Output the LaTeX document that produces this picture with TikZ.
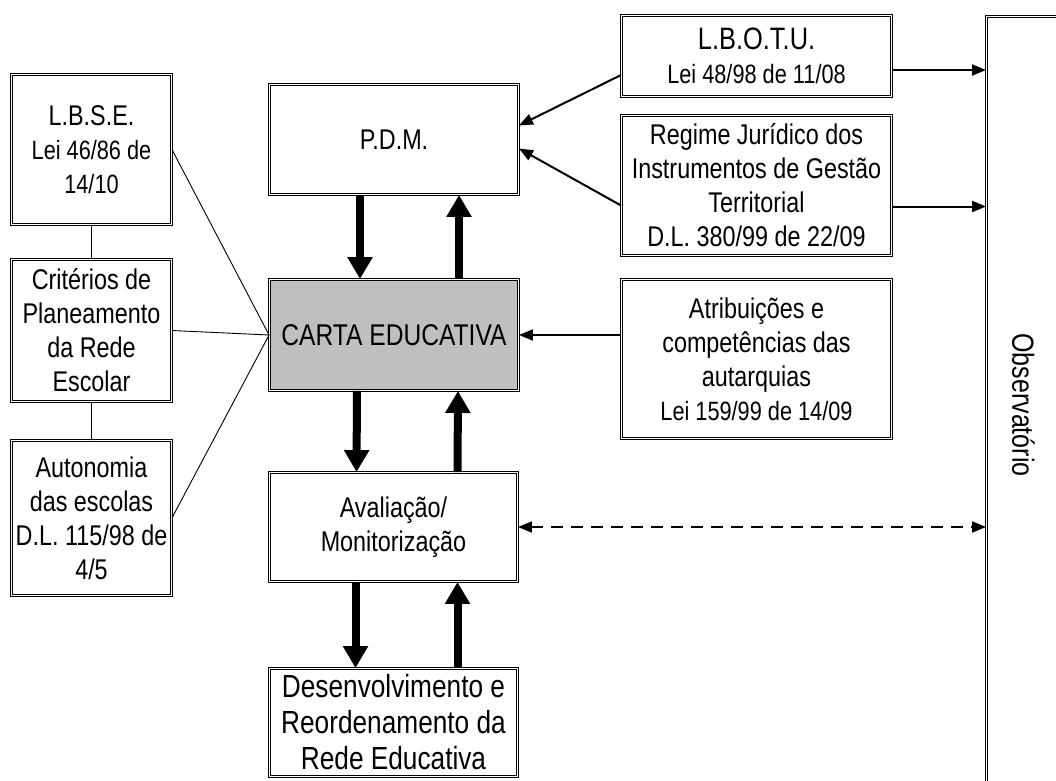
\documentclass[tikz,border=0pt]{standalone}
\usepackage{fontspec}
\setmainfont{Liberation Sans}[FakeStretch=0.82]
\usetikzlibrary{arrows.meta, positioning}
\newcommand{\lawsize}{\fontsize{26.5}{34}\selectfont}
\tikzset{
  box/.style={draw, double, double distance=1.4pt, line width=0.9pt,
    align=center, inner sep=0pt}, % every framed box
  bigarrow/.style={line width=8pt, -{Triangle[length=22pt,width=24pt]}}, % the fat arrows
  link/.style={line width=2pt, -{Triangle[length=14pt,width=11pt]}}, % thin arrows
  dashlink/.style={line width=2pt, dash pattern=on 12pt off 8pt,
    {Triangle[length=14pt,width=11pt]}-{Triangle[length=14pt,width=11pt]}},
  plain/.style={line width=0.9pt}, % links of the left column
}

\begin{document}
\begin{tikzpicture}[x=1pt, y=-1pt,
    every node/.style={font=\fontsize{28.5}{34}\selectfont}]
    \clip (0,0) rectangle (1056,780);

    % left column
    \node[box, minimum width=160pt, minimum height=150pt] (lbse) at (91.5,149.5)
      {L.B.S.E.\\\lawsize Lei 46/86 de\\\lawsize 14/10};
    \node[box, minimum width=160pt, minimum height=142pt] (crit) at (91.5,330.5)
      {Critérios de\\Planeamento\\da Rede\\Escolar};
    \node[box, minimum width=160pt, minimum height=155pt] (auton) at (91.5,518)
      {Autonomia\\das escolas\\D.L. 115/98 de\\4/5};

    % middle column
    \node[box, minimum width=249pt, minimum height=110pt] (pdm) at (394,139.5) {P.D.M.};
    \node[box, fill=black!25, minimum width=249pt, minimum height=111pt,
      font=\fontsize{30}{34}\selectfont] (carta) at (394,335) {CARTA EDUCATIVA};
    \node[box, minimum width=248pt, minimum height=109pt] (aval) at (393.5,527)
      {Avaliação/\\Monitorização};
    \node[box, minimum width=248pt, minimum height=108pt,
      font=\fontsize{32}{36}\selectfont] (desen) at (393.5,722.5)
      {Desenvolvimento e\\Reordenamento da\\Rede Educativa};

    % right column
    \node[box, minimum width=270pt, minimum height=81pt] (lbotu) at (756.5,56)
      {\fontsize{31}{34}\selectfont L.B.O.T.U.\\\lawsize Lei 48/98 de 11/08};
    \node[box, minimum width=270pt, minimum height=140pt] (regime) at (756.5,185.5)
      {Regime Jurídico dos\\Instrumentos de Gestão\\Territorial\\D.L. 380/99 de 22/09};
    \node[box, minimum width=270pt, minimum height=159pt] (atrib) at (756.5,359)
      {Atribuições e\\competências das\\autarquias\\\lawsize Lei 159/99 de 14/09};

    \node[box, minimum width=74pt, minimum height=777pt] (obs) at (1023.5,405) {};
    \node[rotate=-90, font=\fontsize{30.5}{34}\selectfont] (obstext) at (obs) {Observatório};

    \draw[plain]
    (lbse) -- (crit)
    (crit) -- (auton)
    (lbse.east) -- (carta.west)
    (crit.east) -- (carta.west)
    (auton.east) -- (carta.west);

    \draw[bigarrow] ([xshift=-34pt]pdm.south) -- ([xshift=-34pt]carta.north);
    \draw[bigarrow] ([xshift=65pt]carta.north) -- ([xshift=65pt]pdm.south);
    \draw[bigarrow] ([xshift=-37pt]carta.south) -- ([xshift=-37pt]aval.north);
    \draw[bigarrow] ([xshift=64pt]aval.north) -- ([xshift=64pt]carta.south);
    \draw[bigarrow] ([xshift=-38pt]aval.south) -- ([xshift=-38pt]desen.north);
    \draw[bigarrow] ([xshift=64pt]desen.north) -- ([xshift=64pt]aval.south);

    \draw[link] ([yshift=-19pt]lbotu.west) -- ([yshift=14pt]pdm.east);
    \draw[link] ([yshift=-20pt]regime.west) -- ([yshift=-9pt]pdm.east);
    \draw[link] (atrib.west |- carta.east) -- (carta.east);
    \draw[link] ([yshift=-14pt]lbotu.east) -- ([yshift=-14pt]lbotu.east -| obs.west);
    \draw[link] ([yshift=-21pt]regime.east) -- ([yshift=-21pt]regime.east -| obs.west);
    \draw[dashlink] (aval.east) -- (aval.east -| obs.west);
  \end{tikzpicture}
\end{document}
